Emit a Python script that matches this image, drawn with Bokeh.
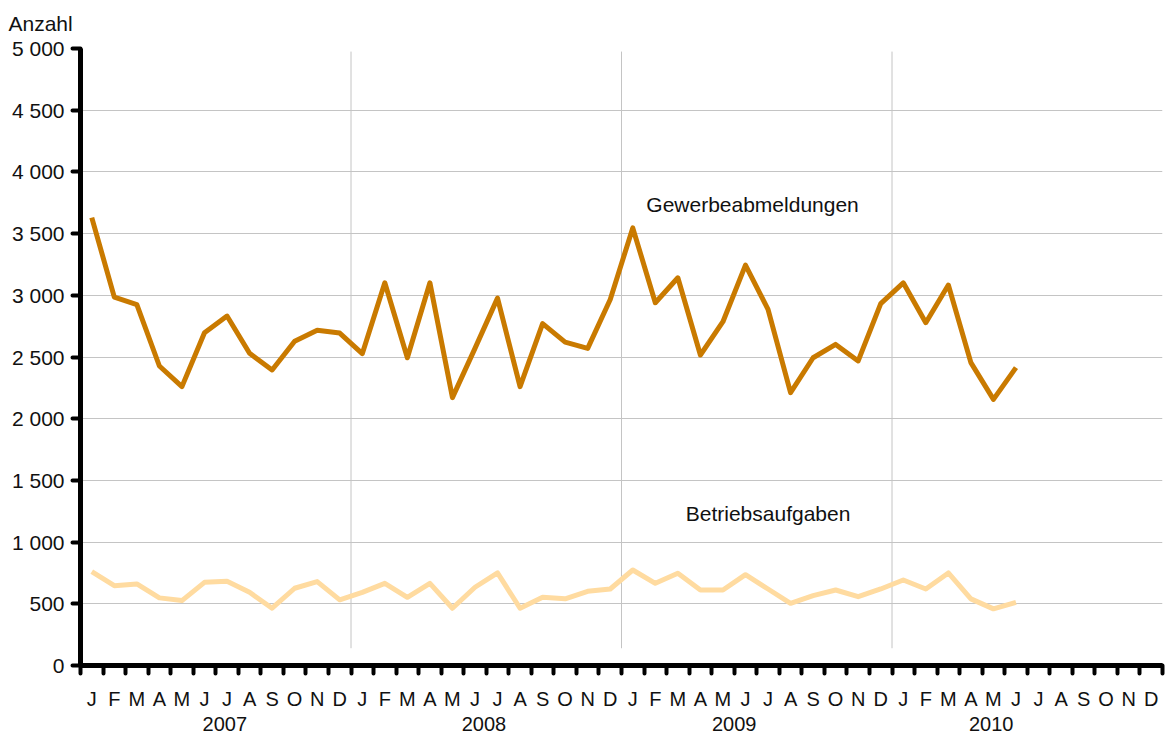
from bokeh.plotting import figure
from bokeh.models import FixedTicker, LinearAxis, Label, Range1d
from bokeh.embed import file_html
from bokeh.resources import INLINE

# ---- data ----
month_letters = ["J", "F", "M", "A", "M", "J", "J", "A", "S", "O", "N", "D"]
years = ["2007", "2008", "2009", "2010"]
year_label_pos = [6.4, 17.9, 29.0, 40.4]
year_bounds = [12, 24, 36]
y_ticks = [0, 500, 1000, 1500, 2000, 2500, 3000, 3500, 4000, 4500, 5000]

gewerbeabmeldungen = [3630, 2985, 2925, 2427, 2260, 2697, 2832, 2530, 2395, 2627, 2716, 2694,
                      2527, 3101, 2494, 3101, 2171, 2570, 2977, 2260, 2770, 2621, 2570, 2966,
                      3546, 2940, 3142, 2516, 2786, 3244, 2886, 2211, 2494, 2602, 2468, 2932,
                      3101, 2778, 3083, 2454, 2157, 2414]
betriebsaufgaben = [760, 647, 661, 548, 526, 674, 682, 593, 464, 626, 680, 532,
                    593, 666, 553, 666, 464, 634, 750, 464, 553, 540, 601, 620,
                    774, 666, 747, 612, 612, 736, 620, 504, 566, 612, 558, 620,
                    693, 620, 750, 540, 459, 512]

n_months = 12 * len(years)
months_all = month_letters * len(years)
x_pos = [i + 0.5 for i in range(len(gewerbeabmeldungen))]

FONT = "Liberation Sans"
TXT = "#111111"
FS = "21px"
FSX = "20px"

p = figure(width=1165, height=735, x_range=Range1d(0, n_months), y_range=Range1d(0, 5000),
           output_backend="svg", toolbar_location=None,
           min_border_left=80, min_border_right=3, min_border_top=47, min_border_bottom=70)
p.outline_line_color = None
p.background_fill_color = "white"

# title used as y-unit caption
p.title.text = "Anzahl"
p.title.align = "left"
p.title.offset = -72
p.title.text_font = FONT
p.title.text_font_size = FS
p.title.text_font_style = "normal"
p.title.text_color = TXT
p.title.standoff = 23
p.title.vertical_align = "top"

# grids
p.xgrid.visible = False
p.ygrid.ticker = FixedTicker(ticks=y_ticks, minor_ticks=[])
p.ygrid.grid_line_color = "#c4c4c4"
p.ygrid.grid_line_width = 1

# vertical year separators
p.segment(x0=year_bounds, x1=year_bounds, y0=[140] * 3, y1=[4975] * 3,
          line_color="#c4c4c4", line_width=1)

# y axis
ya = p.yaxis[0]
ya.ticker = FixedTicker(ticks=y_ticks, minor_ticks=[])
ya.major_label_overrides = {t: f"{t:,}".replace(",", " ") for t in y_ticks}
ya.axis_line_width = 5
ya.axis_line_color = "black"
ya.major_tick_out = 8
ya.major_tick_in = 0
ya.major_tick_line_width = 4
ya.major_tick_line_cap = "round"
ya.minor_tick_out = 0
ya.minor_tick_in = 0
ya.major_label_standoff = 8
ya.major_label_text_font = FONT
ya.major_label_text_font_size = FS
ya.major_label_text_color = TXT

# x axis (months)
xa = p.xaxis[0]
xa.ticker = FixedTicker(ticks=[i + 0.5 for i in range(n_months)],
                        minor_ticks=list(range(n_months + 1)))
xa.major_label_overrides = {i + 0.5: months_all[i] for i in range(n_months)}
xa.axis_line_width = 5
xa.axis_line_color = "black"
xa.major_tick_out = 0
xa.major_tick_in = 0
xa.major_tick_line_color = None
xa.minor_tick_out = 8
xa.minor_tick_in = 0
xa.minor_tick_line_width = 4
xa.minor_tick_line_color = "black"
xa.minor_tick_line_cap = "round"
xa.major_label_standoff = 14
xa.major_label_text_font = FONT
xa.major_label_text_font_size = FSX
xa.major_label_text_color = TXT

# year axis
ya2 = LinearAxis(ticker=FixedTicker(ticks=year_label_pos, minor_ticks=[]),
                 major_label_overrides={year_label_pos[i]: years[i] for i in range(len(years))},
                 axis_line_color=None, major_tick_line_color=None, minor_tick_line_color=None,
                 major_tick_out=0, major_tick_in=0, minor_tick_out=0, minor_tick_in=0,
                 major_label_standoff=4,
                 major_label_text_font=FONT, major_label_text_font_size=FSX,
                 major_label_text_color=TXT)
p.add_layout(ya2, "below")

# series
p.line(x_pos, betriebsaufgaben, line_color="#FFDBA0", line_width=5, line_join="round")
p.line(x_pos, gewerbeabmeldungen, line_color="#C97A00", line_width=5, line_join="round")

# labels
p.add_layout(Label(x=25.1, y=3738, text="Gewerbeabmeldungen", text_font=FONT,
                   text_font_size=FS, text_color=TXT, text_baseline="middle", text_align="left"))
p.add_layout(Label(x=26.85, y=1230, text="Betriebsaufgaben", text_font=FONT,
                   text_font_size=FS, text_color=TXT, text_baseline="middle", text_align="left"))

open("out.html", "w").write(file_html(p, INLINE))
